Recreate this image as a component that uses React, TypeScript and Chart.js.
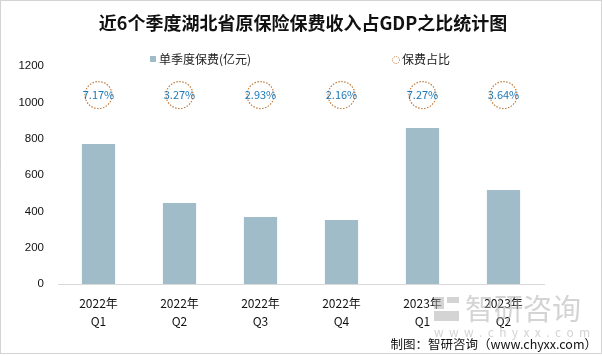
import React, { useEffect, useRef } from "react";
import { Chart, registerables } from "chart.js";

Chart.register(...registerables);

const categories: string[][] = [
  ["2022年", "Q1"],
  ["2022年", "Q2"],
  ["2022年", "Q3"],
  ["2022年", "Q4"],
  ["2023年", "Q1"],
  ["2023年", "Q2"],
];
const premiums: number[] = [770, 446, 369, 352, 859, 517];
const ratios: number[] = [7.17, 3.27, 2.93, 2.16, 7.27, 3.64];
const ratioMarkerLevel: number[] = [1040, 1040, 1040, 1040, 1040, 1040];
const yTicks: number[] = [0, 200, 400, 600, 800, 1000, 1200];

const TITLE = "近6个季度湖北省原保险保费收入占GDP之比统计图";
const LEGEND_BAR = "单季度保费(亿元)";
const LEGEND_RATIO = "保费占比";
const SOURCE = "制图：智研咨询（www.chyxx.com）";

const BAR_COLOR = "#9fbcc8";
const CIRCLE_COLOR = "#c07a3c";
const LABEL_COLOR = "#1b78b8";
const CJK = '"Noto Sans CJK SC", "Noto Sans", sans-serif';

const decorPlugin = {
  id: "decor",
  beforeDatasetDraw(chart: any, args: any) {
    if (args.index === 1) {
      chart.ctx.save();
      chart.ctx.setLineDash([1.5, 1.5]);
    }
  },
  afterDatasetDraw(chart: any, args: any) {
    if (args.index === 1) {
      chart.ctx.restore();
    }
  },
  afterDraw(chart: any) {
    const ctx = chart.ctx as CanvasRenderingContext2D;
    const W = chart.width;
    const H = chart.height;
    ctx.save();
    // border
    ctx.strokeStyle = "#a6a6a6";
    ctx.lineWidth = 1;
    ctx.setLineDash([1, 1]);
    ctx.strokeRect(0.5, 0.5, W - 1, H - 3);
    ctx.setLineDash([]);

    // title
    ctx.fillStyle = "#111";
    ctx.font = `bold 18px ${CJK}`;
    ctx.textAlign = "center";
    ctx.textBaseline = "middle";
    ctx.fillText(TITLE, W / 2 + 2, 23);

    // legend
    ctx.font = `12px ${CJK}`;
    ctx.textAlign = "left";
    ctx.fillStyle = BAR_COLOR;
    ctx.fillRect(150, 56, 6, 6);
    ctx.fillStyle = "#222";
    ctx.fillText(LEGEND_BAR, 159, 59);
    ctx.strokeStyle = CIRCLE_COLOR;
    ctx.setLineDash([1, 1]);
    ctx.beginPath();
    ctx.arc(396, 60, 3.5, 0, Math.PI * 2);
    ctx.stroke();
    ctx.setLineDash([]);
    ctx.fillStyle = "#222";
    ctx.fillText(LEGEND_RATIO, 402, 59);

    // ratio labels
    const meta = chart.getDatasetMeta(1);
    ctx.font = `11px ${CJK}`;
    ctx.textAlign = "center";
    ctx.fillStyle = LABEL_COLOR;
    meta.data.forEach((pt: any, i: number) => {
      ctx.fillText(ratios[i].toFixed(2) + "%", pt.x, pt.y);
    });

    // watermark
    ctx.fillStyle = "rgba(170,170,170,0.5)";
    ctx.font = `29px ${CJK}`;
    ctx.textAlign = "left";
    ctx.fillText("智研咨询", 465, 309);
    ctx.fillRect(434, 297, 10, 12);
    ctx.fillRect(447, 297, 12, 6);
    ctx.fillRect(434, 311, 25, 10);
    ctx.font = `12px ${CJK}`;
    ctx.fillText("w  w  w  .  c  h  y  x  x  .  c  o  m", 434, 332);

    // source
    ctx.fillStyle = "#111";
    ctx.font = `12.5px ${CJK}`;
    ctx.textAlign = "right";
    ctx.fillText(SOURCE, 597, 344);
    ctx.restore();
  },
};

export default function App() {
  const ref = useRef<HTMLCanvasElement | null>(null);
  useEffect(() => {
    document.body.style.margin = "0";
    const chart = new Chart(ref.current as HTMLCanvasElement, {
      type: "bar",
      data: {
        labels: categories,
        datasets: [
          {
            type: "bar",
            label: LEGEND_BAR,
            data: premiums,
            backgroundColor: BAR_COLOR,
            barPercentage: 0.41,
            categoryPercentage: 1,
            order: 2,
          },
          {
            type: "line",
            label: LEGEND_RATIO,
            data: ratioMarkerLevel,
            showLine: false,
            pointRadius: 13.5,
            pointHoverRadius: 13.5,
            pointBackgroundColor: "rgba(0,0,0,0)",
            pointBorderColor: CIRCLE_COLOR,
            pointBorderWidth: 1.2,
            order: 1,
          } as any,
        ],
      },
      options: {
        animation: false,
        responsive: false,
        events: [],
        layout: { padding: { top: 66, right: 58, bottom: 0, left: 0 } },
        plugins: {
          legend: { display: false },
          title: { display: false },
          tooltip: { enabled: false },
        },
        scales: {
          x: {
            grid: { display: false, drawTicks: false },
            border: { display: true, color: "#d9d9d9" },
            ticks: {
              padding: 10,
              color: "#111",
              font: { family: CJK, size: 12, lineHeight: 1.55 },
              maxRotation: 0,
            },
            afterFit(scale: any) {
              scale.height = 72;
            },
          },
          y: {
            min: 0,
            max: 1200,
            afterBuildTicks(scale: any) {
              scale.ticks = yTicks.map((v) => ({ value: v }));
            },
            grid: { display: false, drawTicks: false },
            border: { display: false },
            ticks: {
              padding: 14,
              color: "#111",
              font: { family: '"Liberation Sans", Arial, sans-serif', size: 11.5 },
              callback: (v: any) => String(v),
            },
            afterFit(scale: any) {
              scale.width = 58;
            },
          },
        },
      },
      plugins: [decorPlugin],
    });
    return () => chart.destroy();
  }, []);
  return (
    <div style={{ position: "relative", width: 602, height: 356 }}>
      <canvas ref={ref} width={602} height={356} style={{ width: 602, height: 356 }} />
    </div>
  );
}
